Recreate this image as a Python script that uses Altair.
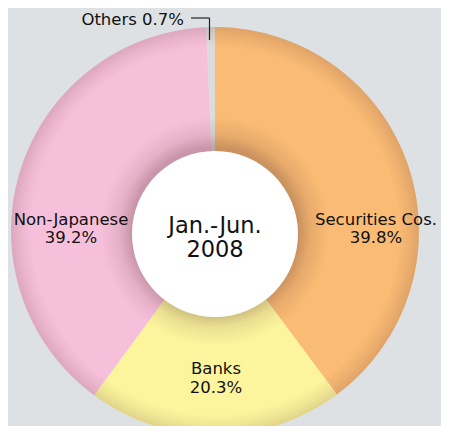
import math
import altair as alt
import pandas as pd

categories = ["Securities Cos.", "Banks", "Non-Japanese", "Others"]
shares = [39.8, 20.3, 39.2, 0.7]
colors = ["#fabb74", "#fdf59d", "#f7c0da", "#dcdcda"]
period_line1 = "Jan.-Jun."
period_line2 = "2008"

df = pd.DataFrame({"category": categories, "share": shares, "idx": list(range(len(categories)))})

OFF = 8  # page margin
CX, CY = 215 - OFF, 231 - OFF
R_OUT, R_IN = 204, 78
WCX, WCY, WR = 215 - OFF, 234 - OFF, 83

base = alt.Chart(df)

donut = base.mark_arc(innerRadius=R_IN, outerRadius=R_OUT, x=CX, y=CY, stroke=None).encode(
    theta=alt.Theta("share:Q", stack=True),
    order=alt.Order("idx:Q"),
    color=alt.Color("category:N", scale=alt.Scale(domain=categories, range=colors), legend=None),
)

shade = alt.Chart(pd.DataFrame({"k": [0]})).mark_arc(
    innerRadius=R_IN, outerRadius=R_OUT, x=CX, y=CY,
    fill={
        "gradient": "radial",
        "x1": 0.5, "y1": 0.5, "r1": 0,
        "x2": 0.5, "y2": 0.5, "r2": 0.5,
        "stops": [
            {"offset": 0.0, "color": "rgba(80,40,40,0.28)"},
            {"offset": 0.41, "color": "rgba(80,40,40,0.28)"},
            {"offset": 0.47, "color": "rgba(80,40,40,0.11)"},
            {"offset": 0.56, "color": "rgba(80,40,40,0.0)"},
            {"offset": 0.90, "color": "rgba(80,40,40,0.0)"},
            {"offset": 0.95, "color": "rgba(80,40,40,0.07)"},
            {"offset": 1.0, "color": "rgba(80,40,40,0.16)"},
        ],
    },
).encode(theta=alt.value(0), theta2=alt.value(2 * math.pi))

white = alt.Chart(pd.DataFrame({"k": [0]})).mark_arc(
    innerRadius=0, outerRadius=WR, x=WCX, y=WCY, fill="white"
).encode(theta=alt.value(0), theta2=alt.value(2 * math.pi))

FONT = "DejaVu Sans"
LABEL_SIZE = 16.5
label_pos = {
    "Securities Cos.": (376 - OFF, 225 - OFF, 18),
    "Banks": (216 - OFF, 374 - OFF, 19),
    "Non-Japanese": (71 - OFF, 225 - OFF, 18),
}

layers = [donut, shade, white]
for cat, val in zip(categories, shares):
    if cat in label_pos:
        x, y, lh = label_pos[cat]
        layers.append(
            alt.Chart(pd.DataFrame({"t": [f"{cat}\n{val}%"]})).mark_text(
                font=FONT, fontSize=LABEL_SIZE, color="#111111", align="center", baseline="alphabetic",
                lineBreak="\n", lineHeight=lh,
            ).encode(text="t:N", x=alt.value(x), y=alt.value(y))
        )

others_txt = f"{categories[3]} {shares[3]}%"
layers.append(
    alt.Chart(pd.DataFrame({"t": [others_txt]})).mark_text(
        font=FONT, fontSize=LABEL_SIZE, color="#111111", align="right", baseline="alphabetic"
    ).encode(text="t:N", x=alt.value(184 - OFF), y=alt.value(25 - OFF))
)
layers.append(
    alt.Chart(pd.DataFrame({"t": [period_line1 + "\n" + period_line2]})).mark_text(
        font=FONT, fontSize=22.5, color="#111111", align="center", baseline="alphabetic",
        lineBreak="\n", lineHeight=24,
    ).encode(text="t:N", x=alt.value(215 - OFF), y=alt.value(233 - OFF))
)
layers.append(
    alt.Chart(pd.DataFrame({"k": [0]})).mark_rule(color="#222222", strokeWidth=1.2).encode(
        x=alt.value(191 - OFF), x2=alt.value(209.5 - OFF), y=alt.value(18 - OFF)
    )
)
layers.append(
    alt.Chart(pd.DataFrame({"k": [0]})).mark_rule(color="#222222", strokeWidth=1.2).encode(
        x=alt.value(209.5 - OFF), y=alt.value(18 - OFF), y2=alt.value(40 - OFF)
    )
)

chart = alt.layer(*layers).properties(
    width=433, height=418, autosize="none", padding=0, background="#dde1e4"
).configure_view(stroke=None)

chart.save("out.html", embed_options={"renderer": "svg", "actions": False})
